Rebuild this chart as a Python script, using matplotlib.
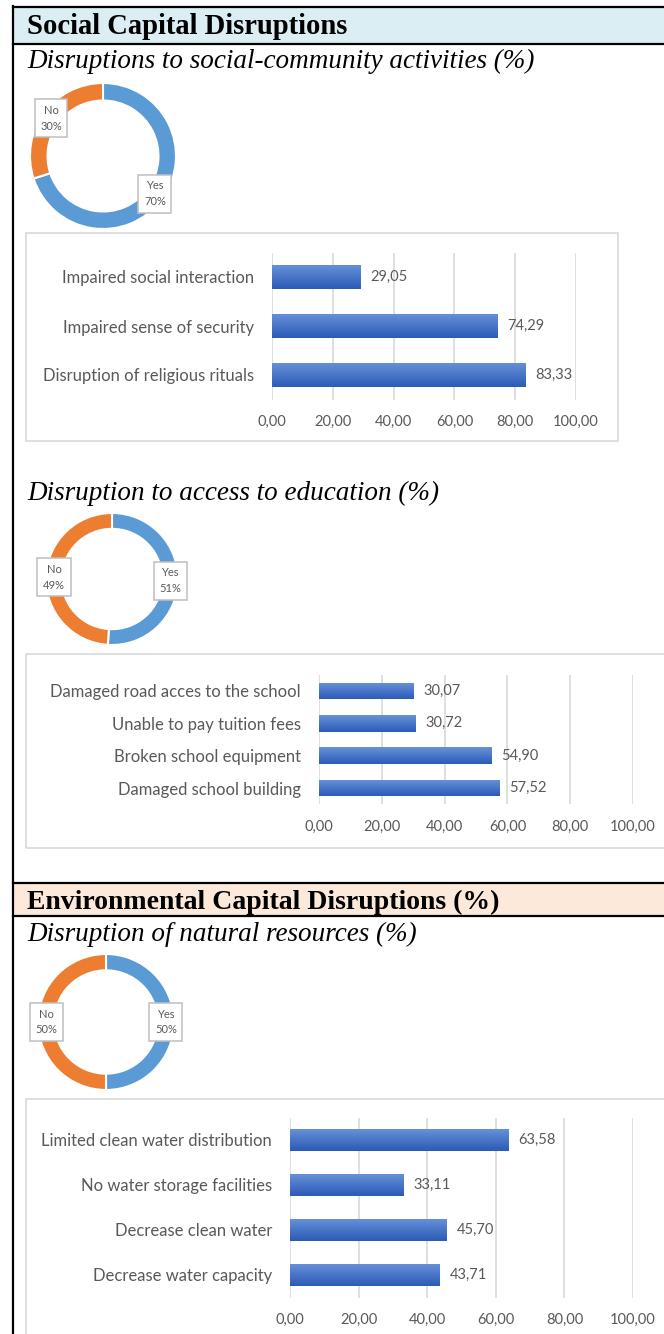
import numpy as np
import matplotlib
matplotlib.use("Agg")
import matplotlib.pyplot as plt
from matplotlib.patches import Rectangle
from matplotlib.lines import Line2D
from matplotlib.colors import LinearSegmentedColormap

# ---- data ----
pie_labels = ["Yes", "No"]
social_pie = [70, 30]
edu_pie = [51, 49]
nature_pie = [50, 50]

social_cats = ["Impaired social interaction", "Impaired sense of security",
               "Disruption of religious rituals"]
social_vals = [29.05, 74.29, 83.33]

edu_cats = ["Damaged road acces to the school", "Unable to pay tuition fees",
            "Broken school equipment", "Damaged school building"]
edu_vals = [30.07, 30.72, 54.90, 57.52]

nature_cats = ["Limited clean water distribution", "No water storage facilities",
               "Decrease clean water", "Decrease water capacity"]
nature_vals = [63.58, 33.11, 45.70, 43.71]

x_ticks = [0, 20, 40, 60, 80, 100]

# ---- layout helpers (pixel coords, origin top-left) ----
W, H = 664, 1334
fig = plt.figure(figsize=(W / 100, H / 100), dpi=100)
fig.patch.set_facecolor("white")

SERIF = "Liberation Serif"
SANS = "Lato"
GREY_TXT = "#595959"
GRID = "#D9D9D9"


def fx(x):
    return x / W


def fy(y):
    return 1 - y / H


def px_axes(x0, y0, x1, y1):
    return fig.add_axes([fx(x0), fy(y1), (x1 - x0) / W, (y1 - y0) / H])


def hline(y, x0=13, x1=W):
    fig.add_artist(Line2D([fx(x0), fx(x1)], [fy(y), fy(y)], color="black", lw=1.6))


def band(y0, y1, color):
    fig.add_artist(Rectangle((fx(13), fy(y1)), 1 - fx(13), (y1 - y0) / H,
                             facecolor=color, edgecolor="none", transform=fig.transFigure))


def chart_box(x0, y0, x1, y1):
    fig.add_artist(Rectangle((fx(x0), fy(y1)), (x1 - x0) / W, (y1 - y0) / H,
                             facecolor="none", edgecolor=GRID, lw=1.2,
                             transform=fig.transFigure))


# ---- table frame / headers ----
band(7, 44, "#DAEEF3")
band(883, 916, "#FDE9D9")
hline(7)
hline(44)
hline(883)
hline(916)
fig.add_artist(Line2D([fx(13), fx(13)], [fy(6), fy(H)], color="black", lw=1.6))

fig.text(fx(27), fy(34), "Social Capital Disruptions", family=SERIF,
         weight="bold", fontsize=20.6, va="baseline")
fig.text(fx(27), fy(909), "Environmental Capital Disruptions (%)", family=SERIF,
         weight="bold", fontsize=20, va="baseline")

fig.text(fx(27), fy(68), "Disruptions to social-community activities (%)",
         family=SERIF, style="italic", fontsize=19.5, va="baseline")
fig.text(fx(27), fy(500), "Disruption to access to education (%)",
         family=SERIF, style="italic", fontsize=19.5, va="baseline")
fig.text(fx(27), fy(941), "Disruption of natural resources (%)",
         family=SERIF, style="italic", fontsize=19.5, va="baseline")


# ---- donuts ----
def donut(cx, cy, r, vals):
    ax = px_axes(cx - r, cy - r, cx + r, cy + r)
    wedges, _ = ax.pie(vals, radius=1, startangle=90, counterclock=False,
                       colors=["#5B9BD5", "#ED7D31"],
                       wedgeprops=dict(width=0.24, edgecolor="white", linewidth=1.5))
    ax.set_xlim(-1, 1)
    ax.set_ylim(-1, 1)
    ax.axis("off")
    for w, lab, v in zip(wedges, pie_labels, vals):
        ang = np.deg2rad((w.theta1 + w.theta2) / 2)
        rm = 0.88
        ax.text(rm * np.cos(ang), rm * np.sin(ang), f"{lab}\n{v}%",
                ha="center", va="center", fontsize=8, family=SANS,
                color=GREY_TXT, linespacing=1.55, clip_on=False,
                bbox=dict(boxstyle="square,pad=0.5", fc="white", ec="#BFBFBF", lw=1.1))


donut(103, 156, 73, social_pie)
donut(112, 579, 66, edu_pie)
donut(106, 1022, 68, nature_pie)

# ---- bar charts ----
grad_cmap = LinearSegmentedColormap.from_list("bar", ["#6892DA", "#2C5BB6"])
grad = np.linspace(0, 1, 64).reshape(-1, 1)


def fmt(v):
    return f"{v:.2f}".replace(".", ",")


def bar_chart(cats, vals, x0, x1, y_first, y_last, bar_h):
    n = len(cats)
    step = (y_last - y_first) / (n - 1)
    ax = px_axes(x0, y_first - step / 2, x1, y_last + step / 2)
    ys = np.arange(n)
    bars = ax.barh(ys, vals, height=bar_h, color="#4472C4", zorder=2)
    for b in bars:
        bx, by, bw, bh = b.get_x(), b.get_y(), b.get_width(), b.get_height()
        im = ax.imshow(grad, cmap=grad_cmap, extent=(bx, bx + bw, by + bh, by),
                       origin="upper", aspect="auto", zorder=3)
        im.set_clip_path(b)
    for yv, v in zip(ys, vals):
        ax.annotate(fmt(v), (v, yv), xytext=(7, 0), textcoords="offset points",
                    va="center", ha="left", fontsize=10.5, family=SANS, color=GREY_TXT)
    ax.set_xlim(0, 100)
    ax.set_ylim(n - 0.5, -0.5)
    ax.set_yticks(ys)
    ax.set_yticklabels(cats, family=SANS, fontsize=12, color=GREY_TXT)
    ax.set_xticks(x_ticks)
    ax.set_xticklabels([fmt(t) for t in x_ticks], family=SANS, fontsize=10.5, color=GREY_TXT)
    ax.tick_params(axis="y", length=0, pad=13)
    ax.tick_params(axis="x", length=0, pad=11)
    ax.xaxis.grid(True, color=GRID, lw=1.2, zorder=0)
    ax.set_axisbelow(True)
    for s in ax.spines.values():
        s.set_visible(False)
    ax.patch.set_alpha(0)
    return ax


chart_box(26, 233, 618, 441)
bar_chart(social_cats, social_vals, 272, 576, 277, 375, 0.49)

chart_box(26, 654, 720, 848)
bar_chart(edu_cats, edu_vals, 319, 633, 691, 788, 0.52)

chart_box(26, 1099, 720, 1400)
bar_chart(nature_cats, nature_vals, 290, 633, 1140, 1275, 0.51)

fig.savefig("out.png", dpi=100)
